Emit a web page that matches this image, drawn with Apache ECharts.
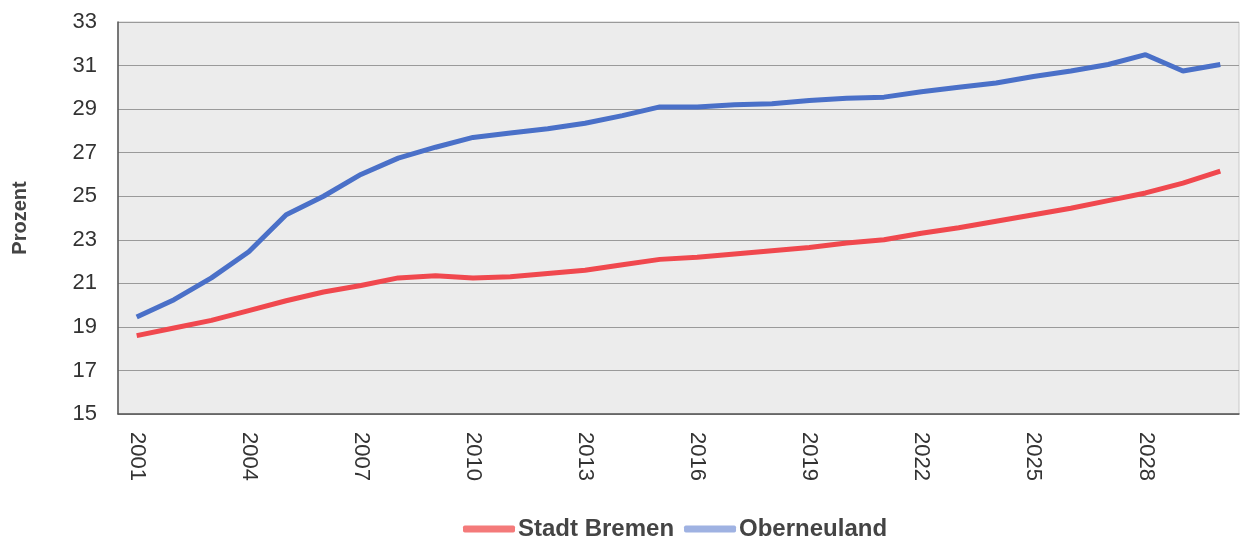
<!DOCTYPE html>
<html>
<head>
<meta charset="utf-8">
<script src="https://cdn.jsdelivr.net/npm/echarts@6/dist/echarts.min.js"></script>
<style>html,body{margin:0;padding:0;background:#fff;}#c{width:1243px;height:539px;}</style>
</head>
<body>
<div id="c"></div>
<script>
const years = ['2001','2002','2003','2004','2005','2006','2007','2008','2009','2010','2011','2012','2013','2014','2015','2016','2017','2018','2019','2020','2021','2022','2023','2024','2025','2026','2027','2028','2029','2030'];
const stadtBremen = [18.6,18.95,19.3,19.75,20.2,20.6,20.9,21.25,21.35,21.25,21.3,21.45,21.6,21.85,22.1,22.2,22.35,22.5,22.65,22.85,23.0,23.3,23.55,23.85,24.15,24.45,24.8,25.15,25.6,26.15];
const oberneuland = [19.45,20.25,21.25,22.45,24.15,25.0,26.0,26.75,27.25,27.7,27.9,28.1,28.35,28.7,29.1,29.1,29.2,29.25,29.4,29.5,29.55,29.8,30.0,30.2,30.5,30.75,31.05,31.5,30.75,31.05];
const yTicks = {min: 15, max: 33, interval: 2};
const seriesNames = ['Stadt Bremen', 'Oberneuland'];

const chart = echarts.init(document.getElementById('c'), null, {renderer: 'canvas'});
chart.setOption({
  animation: false,
  backgroundColor: '#ffffff',
  textStyle: {fontFamily: 'Liberation Sans, Arial, sans-serif'},
  grid: {left: 118, right: 4, top: 22, bottom: 125, show: true, backgroundColor: '#ececec', borderColor: '#c8c8c8', borderWidth: 1},
  legend: {
    top: 512, left: 458,
    itemWidth: 52, itemHeight: 7, itemGap: 10,
    icon: 'roundRect',
    textStyle: {fontSize: 24, fontWeight: 'bold', color: '#444', padding: [0, 0, 0, -2]},
    data: [
      {name: seriesNames[0], itemStyle: {color: '#f47a7a'}},
      {name: seriesNames[1], itemStyle: {color: '#9fb2e2'}}
    ]
  },
  xAxis: {
    type: 'category', data: years, boundaryGap: true,
    axisLine: {lineStyle: {color: '#555', width: 1.5}},
    axisTick: {show: false},
    axisLabel: {interval: 2, rotate: -90, margin: 18, fontSize: 22, color: '#333'},
    splitLine: {show: false}
  },
  yAxis: {
    type: 'value', min: yTicks.min, max: yTicks.max, interval: yTicks.interval,
    name: 'Prozent', nameLocation: 'middle', nameGap: 88, nameRotate: 90,
    nameTextStyle: {fontSize: 20, fontWeight: 'bold', color: '#444'},
    axisLine: {show: true, lineStyle: {color: '#555', width: 1.5}},
    axisTick: {show: false},
    axisLabel: {margin: 21, fontSize: 22, color: '#333'},
    splitLine: {lineStyle: {color: '#9a9a9a', width: 1.2}}
  },
  series: [
    {name: seriesNames[0], type: 'line', data: stadtBremen, symbol: 'none', smooth: false,
     lineStyle: {color: '#f0484e', width: 5}, itemStyle: {color: '#f0484e'}},
    {name: seriesNames[1], type: 'line', data: oberneuland, symbol: 'none', smooth: false,
     lineStyle: {color: '#4a70c8', width: 5}, itemStyle: {color: '#4a70c8'}}
  ]
});
</script>
</body>
</html>
